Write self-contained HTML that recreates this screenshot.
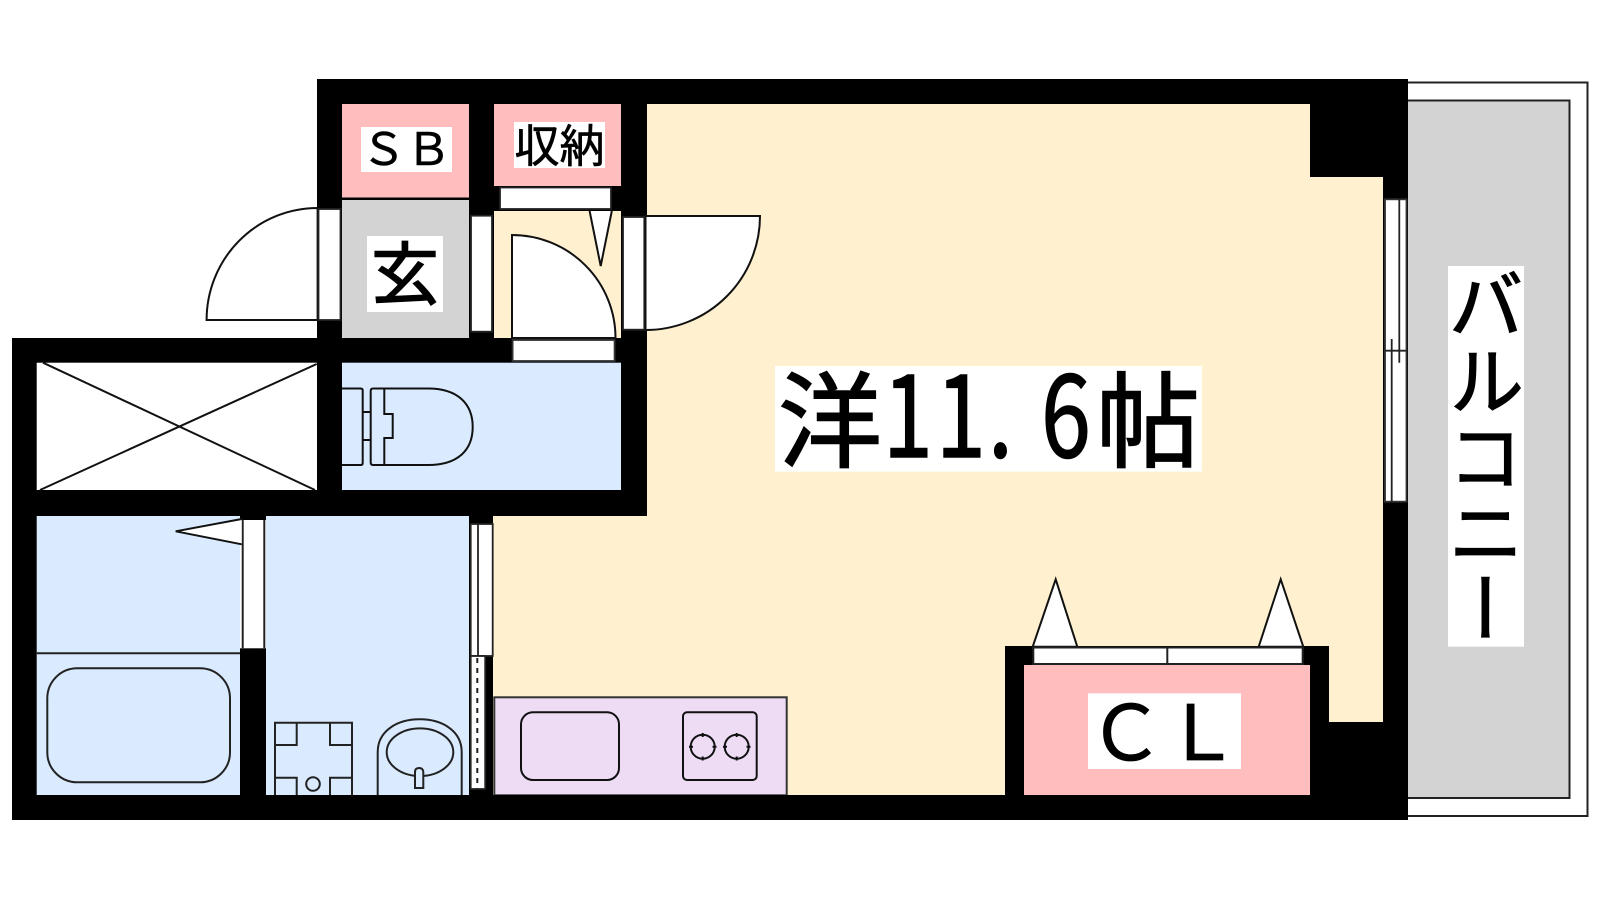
<!DOCTYPE html>
<html lang="ja"><head><meta charset="utf-8"><title>間取り図</title>
<style>
html,body{margin:0;padding:0;background:#fff}
svg{display:block}
text{font-family:"Noto Sans CJK JP","Liberation Sans",sans-serif;fill:#000;stroke:#000}
</style></head>
<body>
<svg xmlns="http://www.w3.org/2000/svg" width="1600" height="900" viewBox="0 0 1600 900">
<rect width="1600" height="900" fill="#fff" stroke="none"/>
<!-- balcony -->
<rect x="1400" y="82.5" width="187.5" height="733.5" fill="#fff" stroke="#222" stroke-width="2"/>
<rect x="1400" y="100.5" width="169.5" height="697.5" fill="#d3d3d3" stroke="#222" stroke-width="2"/>
<!-- walls -->
<path d="M317 79H1408V820H12V338H317Z" fill="#000"/>
<!-- room fill -->
<path d="M647 104H1310V177H1383V722H1329V646H1005V795H493V516H647Z" fill="#fff0cf"/>
<rect x="494" y="211" width="127" height="127" fill="#fff0cf"/>
<!-- pink closets -->
<rect x="342" y="104" width="127" height="93.5" fill="#ffbdbd"/>
<rect x="494" y="104" width="127" height="82" fill="#ffbdbd"/>
<rect x="1024" y="665" width="286" height="130" fill="#ffbdbd"/>
<!-- entry -->
<rect x="342" y="200" width="127" height="138" fill="#d3d3d3"/>
<!-- void -->
<rect x="36.7" y="362.7" width="280.3" height="127.3" fill="#fff"/>
<g stroke="#111" stroke-width="2" fill="none">
<path d="M43 362.7L315 490M316.7 364L40 490"/>
</g>
<!-- wet areas -->
<rect x="342" y="362.7" width="279" height="127.3" fill="#daebff"/>
<rect x="36.7" y="516" width="203.3" height="279" fill="#daebff"/>
<rect x="266" y="516" width="203" height="279" fill="#daebff"/>
<!-- kitchen -->
<rect x="494.3" y="697.3" width="292.4" height="98" fill="#eedcf5" stroke="#333" stroke-width="2"/>
<rect x="493" y="795" width="300" height="25" fill="#000"/>
<g stroke="#111" stroke-width="2" fill="none">
<rect x="521" y="712.3" width="98" height="67.7" rx="12"/>
<rect x="683" y="712.3" width="73.7" height="67.7" rx="4"/>
<circle cx="702.7" cy="746.7" r="12"/>
<circle cx="736.7" cy="746.7" r="12"/>
<path d="M689 746.7h4M712.5 746.7h4M702.7 733v4M702.7 756.5v4M723 746.7h4M746.5 746.7h4M736.7 733v4M736.7 756.5v4"/>
</g>
<!-- toilet -->
<g stroke="#111" stroke-width="2" fill="none">
<path d="M342 388.5H360.7Q362.7 388.5 362.7 390.5V463Q362.7 465 360.7 465H342"/>
<path d="M362.7 412H370.7M362.7 440H370.7"/>
<path d="M384.3 388.5H373Q370.7 388.5 370.7 391V462.5Q370.7 465 373 465H428C458 465 472.7 450 472.7 427S458 388.5 428 388.5H384.3V414H392.7V438H384.3V465"/>
</g>
<!-- bath -->
<g stroke="#222" stroke-width="2" fill="none">
<path d="M36.7 653.3H240"/>
<rect x="47.3" y="668.3" width="182.7" height="114" rx="30" stroke-width="2"/>
</g>
<rect x="240" y="520" width="26" height="128.3" fill="#fff"/>
<path d="M242.7 520V648.3M264.3 520V648.3" stroke="#222" stroke-width="2" fill="none"/>
<path d="M241.7 519L175.7 531.3L241.7 544.3" fill="#fff" stroke="#111" stroke-width="2"/>
<!-- washer -->
<g stroke="#222" stroke-width="2" fill="none">
<path d="M275 795V722.7H352V795"/>
<path d="M275 745H296.7V722.7M352 745H330V722.7M275 777.7H296.7V795M352 777.7H330V795"/>
<circle cx="313" cy="784" r="6.8"/>
</g>
<!-- basin -->
<g stroke="#222" stroke-width="2" fill="none">
<path d="M377.7 795V752C377.7 731 397 719.3 419.7 719.3S461.7 731 461.7 752V795"/>
<ellipse cx="420" cy="752.2" rx="33.3" ry="23.8"/>
<path d="M415 788V772Q415 768 419 768T423.3 772V788Z" fill="#daebff"/>
</g>
<!-- sliding door by wash room -->
<rect x="470.7" y="524" width="22" height="132" fill="#fff" stroke="#222" stroke-width="1.8"/>
<path d="M478 524V656" stroke="#222" stroke-width="1.8"/>
<rect x="470.7" y="656" width="14.5" height="133" fill="#fff" stroke="#222" stroke-width="1.8"/>
<path d="M477.3 658V789" stroke="#222" stroke-width="2" stroke-dasharray="5 5"/>
<!-- entry door -->
<path d="M317.6 208A111 112 0 0 0 206.6 320H317.6Z" fill="#fff" stroke="#111" stroke-width="2"/>
<rect x="318.5" y="209" width="22" height="111" fill="#fff" stroke="#222" stroke-width="1.8"/>
<!-- genkan door frame -->
<rect x="471" y="215.7" width="21" height="116" fill="#fff" stroke="#222" stroke-width="1.8"/>
<!-- storage door -->
<rect x="500" y="187.5" width="111" height="21.5" fill="#fff" stroke="#222" stroke-width="1.8"/>
<path d="M589.6 211L600.7 266L611.8 211" fill="#fff" stroke="#111" stroke-width="2"/>
<!-- inner door -->
<path d="M512 338V235A103.5 103 0 0 1 615.5 338Z" fill="#fff" stroke="#111" stroke-width="2"/>
<rect x="512.6" y="340" width="102" height="21" fill="#fff" stroke="#333" stroke-width="1.8"/>
<!-- room door -->
<rect x="623" y="217" width="21.3" height="112.7" fill="#fff" stroke="#222" stroke-width="1.8"/>
<path d="M645.5 216H760A114.5 114 0 0 1 645.5 330Z" fill="#fff" stroke="#111" stroke-width="2"/>
<!-- closet door -->
<path d="M1032.7 646.7L1055.7 579.3L1077.3 646.7Z M1258.7 646.7L1280.7 579.3L1303.3 646.7Z" fill="#fff" stroke="#111" stroke-width="2"/>
<rect x="1033.3" y="647.5" width="269.4" height="16.5" fill="#fff" stroke="#222" stroke-width="2"/>
<path d="M1167.3 647.5V664" stroke="#222" stroke-width="2"/>
<!-- balcony window -->
<rect x="1385" y="199.3" width="21.5" height="302.4" fill="#fff" stroke="#333" stroke-width="1.8"/>
<path d="M1385 350.7H1406.5M1399.3 199.3V362.7M1391.7 339V501.7" stroke="#222" stroke-width="1.8" fill="none"/>
<!-- labels -->
<rect x="361" y="127" width="91" height="45" fill="#fff" stroke="none"/>
<text x="361" y="165" font-size="45" stroke-width=".5">ＳＢ</text>
<rect x="514" y="122" width="91" height="46" fill="#fff" stroke="none"/>
<text x="514.5" y="162" font-size="45" stroke-width=".6">収納</text>
<rect x="367" y="236" width="76" height="76" fill="#fff" stroke="none"/>
<text x="371" y="299" font-size="68" stroke-width="1.4">玄</text>
<rect x="1088" y="693.3" width="153" height="75.7" fill="#fff" stroke="none"/>
<text x="1088" y="760" font-size="76" stroke-width=".8">ＣＬ</text>
<rect x="775" y="366" width="427" height="105.7" fill="#fff" stroke="none"/>
<text x="778" y="459" font-size="104" stroke-width="1.5">洋</text>
<text transform="translate(883 457) scale(.8 1)" font-size="112" stroke-width="1.5">1</text>
<text transform="translate(936 457) scale(.8 1)" font-size="112" stroke-width="1.5">1</text>
<text transform="translate(988 457) scale(.8 1)" font-size="112" stroke-width="1.5">.</text>
<text transform="translate(1041 457) scale(.8 1)" font-size="112" stroke-width="1.5">6</text>
<text x="1096" y="459" font-size="104" stroke-width="1.5">帖</text>
<rect x="1448" y="266" width="76" height="380.7" fill="#fff" stroke="none"/>
<text x="1486" y="266" font-size="76" stroke-width="1.2" style="writing-mode:vertical-rl">バルコニー</text>
</svg>
</body></html>
